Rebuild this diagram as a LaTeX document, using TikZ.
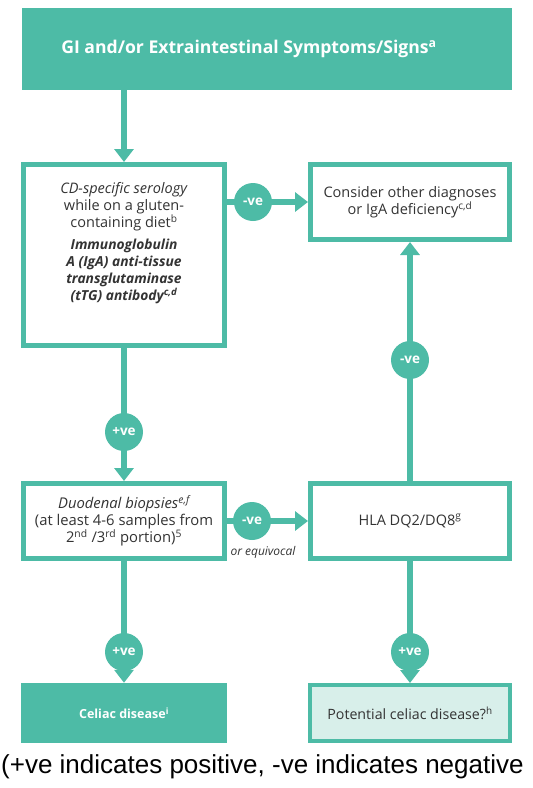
\documentclass[tikz,border=0pt]{standalone}
\usepackage{fontspec}
\setmainfont{Open Sans}
\newfontfamily\capfont{Liberation Sans}
\usetikzlibrary{arrows.meta}
\definecolor{teal1}{HTML}{4DBBA6}
\definecolor{tealL}{HTML}{D8EFEA}
\definecolor{txt}{HTML}{333333}
\begin{document}
\begin{tikzpicture}[x=1pt,y=-1pt,
  box/.style={draw=teal1,line width=5pt,fill=white,minimum width=#1,align=center,inner sep=2pt,text=txt,font=\fontsize{14.5}{17}\selectfont},
  fillbox/.style={fill=teal1,minimum width=#1,align=center,text=white,font=\bfseries\fontsize{12.5}{15}\selectfont},
  arr/.style={draw=teal1,line width=6.5pt,-{Triangle[width=19pt,length=13pt]}},
  vecirc/.style={circle,fill=teal1,minimum size=38pt,inner sep=0pt,text=white,font=\bfseries\fontsize{13.5}{15}\selectfont}
]
\useasboundingbox (0,0) rectangle (533,788);
% boxes
\node[fillbox=490pt,minimum height=82pt,font=\bfseries\fontsize{17.6}{20}\selectfont] (top) at (267,49) {GI and/or Extraintestinal Symptoms/Signs\textsuperscript{a}\hspace*{36pt}};
\node[box=201pt,minimum height=181pt] (sero) at (124,255) {\fontsize{14.5}{17}\selectfont\textit{CD-specific serology}\\while on a gluten-\\containing diet\textsuperscript{b}\\[5pt]\fontsize{13.8}{15.5}\selectfont\textbf{\textit{Immunoglobulin}}\\\fontsize{13.8}{15.5}\selectfont\textbf{\textit{A (IgA) anti-tissue}}\\\fontsize{13.8}{15.5}\selectfont\textbf{\textit{transglutaminase}}\\\fontsize{13.8}{15.5}\selectfont\textbf{\textit{(tTG) antibody\textsuperscript{c,d}}}\\[10pt]};
\node[box=199pt,minimum height=75pt] (other) at (410,202) {Consider other diagnoses\\or IgA deficiency\textsuperscript{c,d}};
\node[box=201pt,minimum height=75pt,font=\fontsize{14.8}{17}\selectfont] (biop) at (124,521) {\textit{Duodenal biopsies\textsuperscript{e,f}}\\(at least 4-6 samples from\\2\textsuperscript{nd} /3\textsuperscript{rd} portion)\textsuperscript{5}};
\node[box=199pt,minimum height=75pt] (hla) at (410,521) {HLA DQ2/DQ8\textsuperscript{g}};
\node[fillbox=206pt,minimum height=60pt] (celiac) at (124,713) {Celiac disease\textsuperscript{i}};
\node[box=200pt,minimum height=56pt,fill=tealL,line width=4pt,font=\fontsize{14.2}{17}\selectfont] (pot) at (410,713) {Potential celiac disease?\textsuperscript{h}};
% connectors
\draw[arr] (top.south -| sero.north) -- (sero.north);
\draw[arr] (sero.east |- other) -- (other.west);
\draw[arr] (sero.south) -- (biop.north);
\draw[arr] (biop.east) -- (hla.west);
\draw[arr] (hla.north) -- (other.south);
\draw[arr] (biop.south) -- (celiac.north);
\draw[arr] (hla.south) -- (pot.north);
% circles
\node[vecirc] (n1) at (253,202) {-ve};
\node[vecirc] (p1) at (124,432) {+ve};
\node[vecirc] (n2) at (252,521) {-ve};
\node[vecirc] (n3) at (410,360) {-ve};
\node[vecirc] (p2) at (124,652) {+ve};
\node[vecirc] (p3) at (410,652) {+ve};
\node[text=txt,font=\itshape\fontsize{12}{14}\selectfont] (eq) at (263,552) {or equivocal};
% caption
\node[anchor=west,inner sep=0pt,font=\capfont\fontsize{26}{30}\selectfont] (cap) at (1,767) {(+ve indicates positive, -ve indicates negative};
\end{tikzpicture}
\end{document}
